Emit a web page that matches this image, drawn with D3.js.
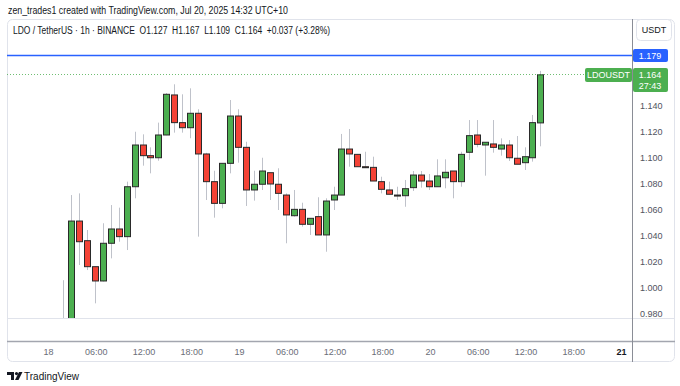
<!DOCTYPE html>
<html>
<head>
<meta charset="utf-8">
<script src="https://cdn.jsdelivr.net/npm/d3@7"></script>
<style>
  body { margin: 0; background: #fff; }
  svg { display: block; font-family: "Liberation Sans", Arial, sans-serif; }
</style>
</head>
<body>
<div id="chart"></div>
<script>
// hourly candles, LDO/USDT, first bar = Jul 18 02:00
const firstBar = new Date(2025, 6, 18, 2);
const opens = [0.975, 0.962, 1.0515, 1.0364, 1.0164, 1.0054, 1.0344, 1.0454, 1.0395, 1.0779,
  1.1100, 1.1018, 1.1002, 1.1177, 1.1485, 1.1272, 1.1233, 1.1344, 1.1031, 1.0818,
  1.0651, 1.0959, 1.1323, 1.1082, 1.0754, 1.0798, 1.0887, 1.0798, 1.0715, 1.0556,
  1.0605, 1.0490, 1.0549, 1.0408, 1.0677, 1.0715, 1.1069, 1.1028, 1.0933, 1.0928,
  1.0818, 1.0754, 1.0715, 1.0710, 1.0772, 1.0869, 1.0823, 1.0779, 1.0848, 1.0900,
  1.0818, 1.1044, 1.1177, 1.1100, 1.1108, 1.1069, 1.1100, 1.0998, 1.0964, 1.1002,
  1.1270];
const highs = [1.006, 1.0715, 1.0728, 1.0446, 1.0164, 1.0498, 1.0638, 1.0618, 1.0818, 1.1202,
  1.1182, 1.1082, 1.1272, 1.1500, 1.1567, 1.1490, 1.1536, 1.1375, 1.1040, 1.0902,
  1.0959, 1.1446, 1.1375, 1.1125, 1.0902, 1.1002, 1.0887, 1.0921, 1.0728, 1.0754,
  1.0656, 1.0536, 1.0698, 1.0690, 1.0779, 1.1185, 1.1223, 1.1031, 1.1048, 1.1010,
  1.0856, 1.0818, 1.0779, 1.0831, 1.0900, 1.0900, 1.0877, 1.0990, 1.0990, 1.0900,
  1.1048, 1.1292, 1.1292, 1.1121, 1.1292, 1.1151, 1.1138, 1.1169, 1.1082, 1.1331,
  1.1670];
const lows = [0.955, 0.958, 1.0177, 1.0138, 0.9882, 1.0050, 1.0228, 1.0356, 1.0292, 1.0690,
  1.0941, 1.0882, 1.0979, 1.1175, 1.1195, 1.1195, 1.1152, 1.0395, 1.0677, 1.0541,
  1.0613, 1.0882, 1.0964, 1.0631, 1.0672, 1.0754, 1.0677, 1.0600, 1.0344, 1.0549,
  1.0472, 1.0408, 1.0408, 1.0279, 1.0600, 1.0715, 1.0933, 1.0933, 1.0928, 1.0823,
  1.0728, 1.0721, 1.0677, 1.0625, 1.0746, 1.0772, 1.0754, 1.0779, 1.0767, 1.0690,
  1.0779, 1.0985, 1.1082, 1.0864, 1.1041, 1.1018, 1.0977, 1.0952, 1.0908, 1.0972,
  1.1090];
const closes = [0.962, 1.0515, 1.0356, 1.0164, 1.0054, 1.0344, 1.0454, 1.0395, 1.0779, 1.1100,
  1.1018, 1.1002, 1.1177, 1.1490, 1.1272, 1.1233, 1.1344, 1.1031, 1.0818, 1.0651,
  1.0959, 1.1323, 1.1082, 1.0754, 1.0798, 1.0900, 1.0800, 1.0728, 1.0562, 1.0605,
  1.0490, 1.0536, 1.0408, 1.0669, 1.0715, 1.1069, 1.1031, 1.0933, 1.0926, 1.0823,
  1.0759, 1.0721, 1.0710, 1.0764, 1.0869, 1.0823, 1.0779, 1.0862, 1.0890, 1.0818,
  1.1028, 1.1172, 1.1105, 1.1121, 1.1082, 1.1100, 1.1002, 1.0952, 1.1010, 1.1272,
  1.1640];

const priceTicks = [0.98, 1.00, 1.02, 1.04, 1.06, 1.08, 1.10, 1.12, 1.14];
const timeTicks = [
  new Date(2025, 6, 18, 0), new Date(2025, 6, 18, 6), new Date(2025, 6, 18, 12), new Date(2025, 6, 18, 18),
  new Date(2025, 6, 19, 0), new Date(2025, 6, 19, 6), new Date(2025, 6, 19, 12), new Date(2025, 6, 19, 18),
  new Date(2025, 6, 20, 0), new Date(2025, 6, 20, 6), new Date(2025, 6, 20, 12), new Date(2025, 6, 20, 18),
  new Date(2025, 6, 21, 0)
];
const alertPrice = 1.179;
const lastPrice = 1.164;
const countdown = "27:43";
const symbol = "LDOUSDT";
const headerLine = "LDO / TetherUS \u00b7 1h \u00b7 BINANCE  O1.127  H1.167  L1.109  C1.164  +0.037 (+3.28%)";
const creditLine = "zen_trades1 created with TradingView.com, Jul 20, 2025 14:32 UTC+10";

const width = 680, height = 386;
const pane = { left: 8, right: 632, top: 20, bottom: 318 };
const upColor = "#4caf50", downColor = "#f44336";

const candles = opens.map((o, i) => ({
  t: d3.timeHour.offset(firstBar, i), o: o, h: highs[i], l: lows[i], c: closes[i]
}));

const x = d3.scaleTime()
  .domain([new Date(2025, 6, 18, 0), new Date(2025, 6, 21, 0)])
  .range([48, 621]);
const y = d3.scaleLinear()
  .domain([0.98, 1.18])
  .range([314, 54]);

const svg = d3.select("#chart").append("svg")
  .attr("width", width)
  .attr("height", height);

svg.append("rect").attr("width", width).attr("height", height).attr("fill", "#fff");

// credit line
svg.append("text")
  .attr("x", 8).attr("y", 14)
  .attr("font-size", 10).attr("fill", "#131722")
  .attr("textLength", 280).attr("lengthAdjust", "spacingAndGlyphs")
  .text(creditLine);

// outer frame
svg.append("rect")
  .attr("x", 7.5).attr("y", 19.5)
  .attr("width", 667).attr("height", 342)
  .attr("rx", 5)
  .attr("fill", "none").attr("stroke", "#e0e3eb");

// pane bottom separator
svg.append("line")
  .attr("x1", 7).attr("x2", 675)
  .attr("y1", 318.5).attr("y2", 318.5)
  .attr("stroke", "#e0e3eb");

// time axis top border
svg.append("line")
  .attr("x1", 7).attr("x2", 675)
  .attr("y1", 341.5).attr("y2", 341.5)
  .attr("stroke", "#a3a6af").attr("stroke-width", 1.5);

// price axis border
svg.append("line")
  .attr("x1", 632.5).attr("x2", 632.5)
  .attr("y1", 19).attr("y2", 362)
  .attr("stroke", "#8a8d96");

// symbol header
svg.append("text")
  .attr("x", 13).attr("y", 34)
  .attr("font-size", 10).attr("fill", "#131722")
  .attr("textLength", 317).attr("lengthAdjust", "spacingAndGlyphs")
  .attr("xml:space", "preserve")
  .text(headerLine);

// currency box
svg.append("rect")
  .attr("x", 636.5).attr("y", 19.5)
  .attr("width", 35).attr("height", 21)
  .attr("rx", 4)
  .attr("fill", "#fff").attr("stroke", "#e0e3eb");
svg.append("text")
  .attr("x", 654).attr("y", 33)
  .attr("text-anchor", "middle")
  .attr("font-size", 9).attr("fill", "#131722")
  .text("USDT");

// candles
svg.append("clipPath").attr("id", "paneClip")
  .append("rect")
  .attr("x", pane.left).attr("y", pane.top)
  .attr("width", pane.right - pane.left).attr("height", pane.bottom - pane.top);

const plot = svg.append("g").attr("clip-path", "url(#paneClip)");

const cx = d => Math.round(x(d.t));

plot.selectAll(".wick")
  .data(candles)
  .enter()
  .append("line")
  .attr("class", "wick")
  .attr("x1", d => cx(d) - 0.5).attr("x2", d => cx(d) - 0.5)
  .attr("y1", d => y(d.h)).attr("y2", d => y(d.l))
  .attr("stroke", "#bfc2ca");

plot.selectAll(".body")
  .data(candles)
  .enter()
  .append("rect")
  .attr("class", "body")
  .attr("x", d => cx(d) - 3.5)
  .attr("width", 6)
  .attr("y", d => y(Math.max(d.o, d.c)))
  .attr("height", d => Math.max(1, Math.abs(y(d.o) - y(d.c))))
  .attr("fill", d => d.c >= d.o ? upColor : downColor)
  .attr("stroke", "#2a2a2a")
  .attr("stroke-width", 1);

// alert / horizontal line
svg.append("line")
  .attr("x1", 7).attr("x2", pane.right)
  .attr("y1", Math.round(y(alertPrice)) + 0.5).attr("y2", Math.round(y(alertPrice)) + 0.5)
  .attr("stroke", "#2962ff").attr("stroke-width", 1.5);

// last price dotted line
svg.append("line")
  .attr("x1", 7).attr("x2", 585)
  .attr("y1", Math.round(y(lastPrice)) - 0.5).attr("y2", Math.round(y(lastPrice)) - 0.5)
  .attr("stroke", upColor).attr("stroke-dasharray", "1,2").attr("opacity", 0.8);

// price axis
const yAxis = d3.axisRight(y)
  .tickValues(priceTicks)
  .tickSize(0)
  .tickPadding(8)
  .tickFormat(d3.format(".3f"));

svg.append("g")
  .attr("transform", `translate(${pane.right},0)`)
  .call(yAxis)
  .call(g => g.select(".domain").remove())
  .call(g => g.selectAll("text")
    .attr("font-size", 9)
    .attr("font-family", "Liberation Sans, Arial, sans-serif")
    .attr("fill", "#50535e"));

// time axis
const fmtTime = d => d.getHours() === 0 ? d3.timeFormat("%-d")(d) : d3.timeFormat("%H:%M")(d);
const xAxis = d3.axisBottom(x)
  .tickValues(timeTicks)
  .tickSize(0)
  .tickPadding(0)
  .tickFormat(fmtTime);

svg.append("g")
  .attr("transform", "translate(0,349)")
  .call(xAxis)
  .call(g => g.select(".domain").remove())
  .call(g => g.selectAll("text")
    .attr("font-size", 9)
    .attr("font-family", "Liberation Sans, Arial, sans-serif")
    .attr("fill", (d, i) => i === timeTicks.length - 1 ? "#131722" : "#6a6d78")
    .attr("font-weight", (d, i) => i === timeTicks.length - 1 ? "bold" : "normal"));

// price labels on axis
const yAlert = Math.round(y(alertPrice));
svg.append("rect")
  .attr("x", 633).attr("y", yAlert - 6)
  .attr("width", 35).attr("height", 13)
  .attr("rx", 2)
  .attr("fill", "#2962ff");
svg.append("text")
  .attr("x", 650).attr("y", yAlert + 3.5)
  .attr("text-anchor", "middle")
  .attr("font-size", 9).attr("fill", "#fff")
  .text(d3.format(".3f")(alertPrice));

const yLast = Math.round(y(lastPrice));
svg.append("rect")
  .attr("x", 633).attr("y", yLast - 7)
  .attr("width", 35).attr("height", 24)
  .attr("rx", 2)
  .attr("fill", upColor);
svg.append("text")
  .attr("x", 650).attr("y", yLast + 3)
  .attr("text-anchor", "middle")
  .attr("font-size", 9).attr("fill", "#fff")
  .text(d3.format(".3f")(lastPrice));
svg.append("text")
  .attr("x", 650).attr("y", yLast + 14)
  .attr("text-anchor", "middle")
  .attr("font-size", 9).attr("fill", "#fff")
  .text(countdown);

svg.append("rect")
  .attr("x", 585).attr("y", yLast - 7)
  .attr("width", 47).attr("height", 14)
  .attr("rx", 2)
  .attr("fill", upColor);
svg.append("text")
  .attr("x", 608.5).attr("y", yLast + 3)
  .attr("text-anchor", "middle")
  .attr("font-size", 9).attr("fill", "#fff")
  .text(symbol);

// TradingView mark
const logo = svg.append("g").attr("transform", "translate(7,372)").attr("fill", "#131722");
logo.append("path").attr("d", "M0 0 H7 V8 H4 V3 H0 Z");
logo.append("circle").attr("cx", 9.5).attr("cy", 1.6).attr("r", 1.6);
logo.append("path").attr("d", "M12 0 H15.5 L11.5 8 H8 Z");
svg.append("text")
  .attr("x", 24).attr("y", 380)
  .attr("font-size", 10).attr("fill", "#131722")
  .text("TradingView");
</script>
</body>
</html>
